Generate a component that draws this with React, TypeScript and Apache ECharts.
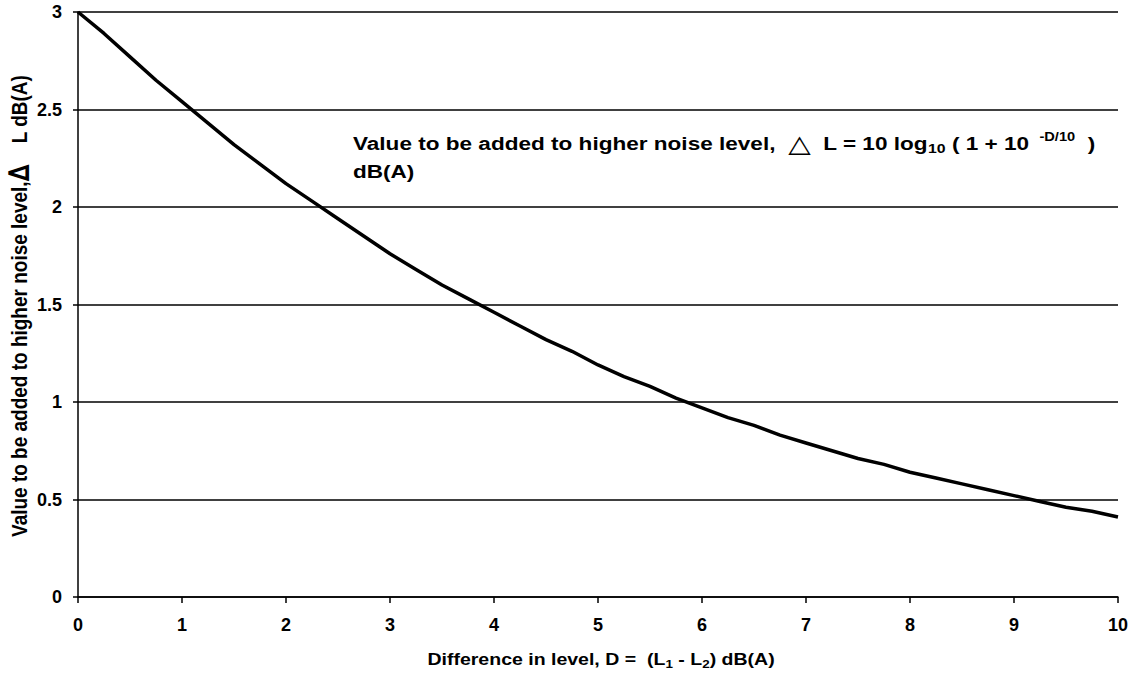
import React, { useEffect, useRef } from 'react';
import * as echarts from 'echarts';

// Difference in level D (dB(A)) and value to be added (dB(A))
const levelDifference = [
  0, 0.25, 0.5, 0.75, 1, 1.25, 1.5, 1.75, 2, 2.25, 2.5, 2.75, 3, 3.25, 3.5, 3.75, 4,
  4.25, 4.5, 4.75, 5, 5.25, 5.5, 5.75, 6, 6.25, 6.5, 6.75, 7, 7.25, 7.5, 7.75, 8,
  8.25, 8.5, 8.75, 9, 9.25, 9.5, 9.75, 10,
];
const valueAdded = [
  3.0, 2.89, 2.77, 2.65, 2.54, 2.43, 2.32, 2.22, 2.12, 2.03, 1.94, 1.85, 1.76, 1.68,
  1.6, 1.53, 1.46, 1.39, 1.32, 1.26, 1.19, 1.13, 1.08, 1.02, 0.97, 0.92, 0.88, 0.83,
  0.79, 0.75, 0.71, 0.68, 0.64, 0.61, 0.58, 0.55, 0.52, 0.49, 0.46, 0.44, 0.41,
];
const xTickValues = [0, 1, 2, 3, 4, 5, 6, 7, 8, 9, 10];
const yTickValues = [0, 0.5, 1, 1.5, 2, 2.5, 3];

const FONT = '"Liberation Sans", Arial, Helvetica, sans-serif';

export default function App() {
  const ref = useRef<HTMLDivElement>(null);

  useEffect(() => {
    document.body.style.margin = '0';
    const chart = echarts.init(ref.current!, null, { renderer: 'svg' });
    const seriesData = levelDifference.map((d, i) => [d, valueAdded[i]]);

    chart.setOption({
      animation: false,
      backgroundColor: '#ffffff',
      grid: { left: 78, right: 14, top: 12, bottom: 76, containLabel: false },
      xAxis: {
        type: 'value',
        min: xTickValues[0],
        max: xTickValues[xTickValues.length - 1],
        interval: 1,
        axisLine: { show: true, lineStyle: { color: '#000', width: 1.5 } },
        axisTick: { show: true, inside: false, length: 6, lineStyle: { color: '#000', width: 1.5 } },
        axisLabel: {
          margin: 19,
          color: '#000',
          fontFamily: FONT,
          fontWeight: 'bold',
          fontSize: 18,
        },
        splitLine: { show: false },
      },
      yAxis: {
        type: 'value',
        min: yTickValues[0],
        max: yTickValues[yTickValues.length - 1],
        interval: 0.5,
        axisLine: { show: true, lineStyle: { color: '#000', width: 1.5 } },
        axisTick: { show: true, inside: false, length: 5, lineStyle: { color: '#000', width: 1.5 } },
        axisLabel: {
          margin: 16,
          color: '#000',
          fontFamily: FONT,
          fontWeight: 'bold',
          fontSize: 18,
        },
        splitLine: { show: true, lineStyle: { color: '#000', width: 1.5 } },
      },
      series: [
        {
          type: 'line',
          data: seriesData,
          showSymbol: false,
          symbol: 'none',
          smooth: false,
          lineStyle: { color: '#000', width: 3.5 },
        },
      ],
      graphic: [
        {
          type: 'text',
          x: 353,
          y: 143,
          scaleX: 1.22,
          style: {
            text: '{t|Value to be added to higher noise level,  }{tri|△}{t|  L = 10 log}{sub|10}{t| ( 1 + 10 }{sup| -D/10}{t|  )}',
            align: 'left',
            verticalAlign: 'middle',
            fill: '#000',
            rich: {
              t: { fontFamily: FONT, fontWeight: 'bold', fontSize: 18.5, lineHeight: 24, fill: '#000' },
              tri: { fontFamily: '"DejaVu Sans", sans-serif', fontWeight: 'normal', fontSize: 24, lineHeight: 24, fill: '#000' },
              sub: { fontFamily: FONT, fontWeight: 'bold', fontSize: 13, lineHeight: 13, verticalAlign: 'bottom', fill: '#000' },
              sup: { fontFamily: FONT, fontWeight: 'bold', fontSize: 12, lineHeight: 12, verticalAlign: 'top', fill: '#000' },
            },
          },
        },
        {
          type: 'text',
          x: 353,
          y: 171,
          scaleX: 1.22,
          style: {
            text: 'dB(A)',
            align: 'left',
            verticalAlign: 'middle',
            fill: '#000',
            fontFamily: FONT,
            fontWeight: 'bold',
            fontSize: 18.5,
          },
        },
        {
          type: 'text',
          x: 601,
          y: 660,
          scaleX: 1.22,
          style: {
            text: '{t|Difference in level, D =  (L}{s|1}{t| - L}{s|2}{t|) dB(A)}',
            align: 'center',
            verticalAlign: 'middle',
            fill: '#000',
            rich: {
              t: { fontFamily: FONT, fontWeight: 'bold', fontSize: 16, lineHeight: 19, fill: '#000' },
              s: { fontFamily: FONT, fontWeight: 'bold', fontSize: 11, lineHeight: 11, verticalAlign: 'bottom', fill: '#000' },
            },
          },
        },
        {
          type: 'text',
          x: 19,
          y: 306,
          rotation: Math.PI / 2,
          scaleY: 1.2,
          style: {
            text: '{t|Value to be added to higher noise level,}{d|∆}{t|    L dB(A)}',
            align: 'center',
            verticalAlign: 'middle',
            fill: '#000',
            rich: {
              t: { fontFamily: FONT, fontWeight: 'bold', fontSize: 19, lineHeight: 24, fill: '#000' },
              d: { fontFamily: '"DejaVu Sans", sans-serif', fontWeight: 'bold', fontSize: 24, lineHeight: 24, fill: '#000' },
            },
          },
        },
      ],
    });

    return () => chart.dispose();
  }, []);

  return <div ref={ref} style={{ width: 1132, height: 673 }} />;
}
